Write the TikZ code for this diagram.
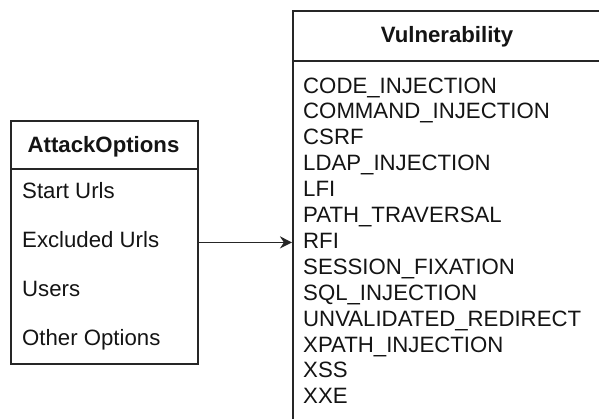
\documentclass[tikz,border=0pt]{standalone}
\usepackage{fontspec}
\setmainfont{Liberation Sans}
\usetikzlibrary{arrows.meta}
\begin{document}
\begin{tikzpicture}[x=1pt,y=1pt,
  boxline/.style={draw=black!85, line width=1.8pt},
  hdr/.style={font=\fontsize{22.2}{25}\selectfont\bfseries, text=black!92, inner sep=0pt, anchor=base},
  item/.style={font=\fontsize{22.2}{25}\selectfont, text=black!92, inner sep=0pt, anchor=base west},
  conn/.style={draw=black!85, line width=1.8pt, -{Stealth[length=12pt,width=12pt]}}
]
\useasboundingbox (0,0) rectangle (599,-418);
\clip (0,0) rectangle (599,-418);
\fill[white] (0,0) rectangle (599,-418);

% AttackOptions box
\node[boxline, minimum width=187pt, minimum height=243pt, inner sep=0pt, anchor=north west] (ao) at (10,-120) {};
\draw[boxline] (10,-169) -- (197,-169);
\node[hdr] (aoh) at (103.5,-152) {AttackOptions};
\node[item] (ao1) at (22,-198) {Start Urls};
\node[item] (ao2) at (22,-247) {Excluded Urls};
\node[item] (ao3) at (22,-296) {Users};
\node[item] (ao4) at (22,-345) {Other Options};

% Vulnerability box
\node[boxline, minimum width=310pt, minimum height=430pt, inner sep=0pt, anchor=north west] (vu) at (292,-10) {};
\draw[boxline] (292,-61) -- (602,-61);
\node[hdr] (vuh) at (447,-42) {Vulnerability};
\foreach \t [count=\k from 0] in {CODE\_INJECTION,COMMAND\_INJECTION,CSRF,LDAP\_INJECTION,LFI,PATH\_TRAVERSAL,RFI,SESSION\_FIXATION,SQL\_INJECTION,UNVALIDATED\_REDIRECT,XPATH\_INJECTION,XSS,XXE}{
  \node[item] (v\k) at (303,{-93-25.9*\k}) {\t};
}

% connector
\draw[conn] (ao.east) -- (vu.west |- ao.east);
\end{tikzpicture}
\end{document}
